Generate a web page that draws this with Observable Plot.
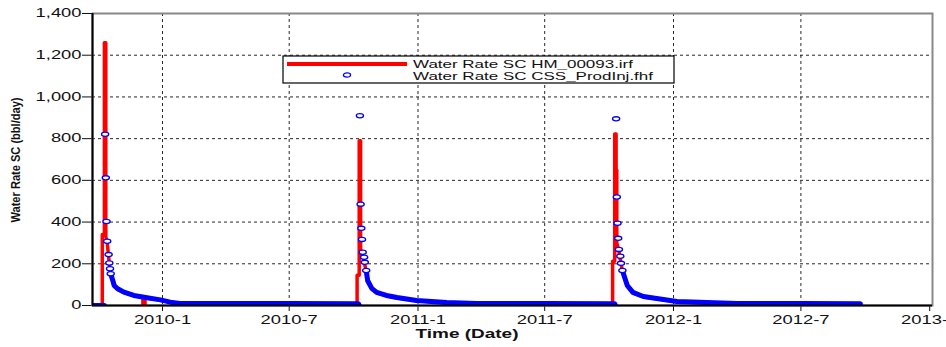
<!DOCTYPE html>
<html><head><meta charset="utf-8">
<script src="https://cdn.jsdelivr.net/npm/d3@7"></script>
<script src="https://cdn.jsdelivr.net/npm/@observablehq/plot@0.6"></script>
<style>
body{margin:0;background:#fff;}
#wrap{position:relative;width:946px;height:347px;overflow:hidden;}
</style></head><body><div id="wrap"></div>
<script>
// ---- data ----
const yTicks = [0, 200, 400, 600, 800, 1000, 1200, 1400];
const xTickDates = ["2010-01-01","2010-07-01","2011-01-01","2011-07-01","2012-01-01","2012-07-01","2013-01-01"];
const xDomain = ["2009-09-23","2013-01-05"];
const seriesNames = ["Water Rate SC HM_00093.irf", "Water Rate SC CSS_ProdInj.fhf"];
const xLabel = "Time (Date)";
const yLabel = "Water Rate SC (bbl/day)";

// simulated rate (piecewise constant over time steps -> repeated dates)
const redDates = ["2009-09-20","2009-10-07","2009-10-07","2009-10-10","2009-10-10","2009-10-12","2009-10-12","2009-10-14","2009-10-18","2009-10-19","2009-10-22","2009-10-24","2009-10-29","2009-11-07","2009-11-21","2009-12-04","2009-12-04","2009-12-07","2009-12-07","2009-12-29","2010-01-12","2010-01-26","2010-04-01","2010-07-01","2010-10-06",
  "2010-10-06","2010-10-09","2010-10-09","2010-10-11","2010-10-11","2010-10-14","2010-10-19","2010-10-21","2010-10-27","2010-11-03","2010-11-17","2010-12-02","2010-12-30","2011-02-11","2011-03-26","2011-07-01","2011-10-06",
  "2011-10-06","2011-10-09","2011-10-09","2011-10-11","2011-10-11","2011-10-12","2011-10-12","2011-10-15","2011-10-20","2011-10-27","2011-11-04","2011-11-19","2011-12-08","2012-01-06","2012-02-18","2012-04-01","2012-07-01","2012-09-24"];
const redValues = [0,0,340,340,1260,1260,330,300,170,148,116,92,77,62,47,39,0,0,37,26,15,9,9,8,7,
  145,145,790,790,255,240,165,116,79,61,46,36,23,13,9,8,7,
  212,212,822,822,650,650,300,260,165,93,61,41,32,18,13,9,8,7];

// measured rate
const blueDates = ["2009-09-20","2009-10-10","2009-10-11","2009-10-12","2009-10-13","2009-10-14","2009-10-16","2009-10-17","2009-10-18","2009-10-19","2009-10-22","2009-10-24","2009-10-29","2009-11-07","2009-11-21","2009-12-10","2009-12-29","2010-01-12","2010-01-26","2010-04-01","2010-07-01","2010-10-08","2010-10-09",
  "2010-10-10","2010-10-11","2010-10-12","2010-10-13","2010-10-14","2010-10-16","2010-10-17","2010-10-19","2010-10-21","2010-10-27","2010-11-03","2010-11-17","2010-12-02","2010-12-30","2011-02-11","2011-03-26","2011-07-01","2011-10-09","2011-10-10",
  "2011-10-11","2011-10-12","2011-10-13","2011-10-14","2011-10-15","2011-10-17","2011-10-18","2011-10-20","2011-10-27","2011-11-04","2011-11-19","2011-12-08","2012-01-06","2012-02-18","2012-04-01","2012-07-01","2012-09-24"];
const blueValues = [0,0,821,612,403,308,244,204,176,152,120,96,80,64,48,37,27,16,10,10,9,8,0,
  910,486,370,317,255,231,207,168,120,82,63,48,38,24,14,10,9,8,0,
  895,520,394,322,269,236,202,168,96,63,43,34,19,14,10,9,8];

// ---- build ----
const red = redDates.map((d, i) => ({date: new Date(d), v: redValues[i]}));
const blue = blueDates.map((d, i) => ({date: new Date(d), v: blueValues[i]}));
const xTicks = xTickDates.map(d => new Date(d));

const ellipse = {
  draw(ctx) {
    const rx = 3.6, ry = 2.1, k = 0.5523;
    ctx.moveTo(rx, 0);
    ctx.bezierCurveTo(rx, ry * k, rx * k, ry, 0, ry);
    ctx.bezierCurveTo(-rx * k, ry, -rx, ry * k, -rx, 0);
    ctx.bezierCurveTo(-rx, -ry * k, -rx * k, -ry, 0, -ry);
    ctx.bezierCurveTo(rx * k, -ry, rx, -ry * k, rx, 0);
    ctx.closePath();
  }
};

const grid = {stroke: "#000", strokeOpacity: 0.85, strokeWidth: 1, strokeDasharray: "3,3"};

const chart = Plot.plot({
  width: 946, height: 347,
  marginLeft: 92, marginRight: 14, marginTop: 13, marginBottom: 42,
  style: {fontFamily: "'Liberation Sans', Arial, sans-serif", fontSize: "12px", color: "#111", background: "#fff"},
  x: {type: "utc", domain: xDomain.map(d => new Date(d)), ticks: xTicks,
      tickFormat: d => `${d.getUTCFullYear()}-${d.getUTCMonth() + 1}`, tickSize: 6, tickPadding: 4, label: null},
  y: {domain: [0, 1400], ticks: yTicks, tickFormat: d3.format(","), tickSize: 10, tickPadding: 1, label: null},
  marks: [
    Plot.ruleX(xTicks.slice(0, -1), grid),
    Plot.ruleY(yTicks.filter(v => v > 0 && v < 1400), grid),
    Plot.frame({stroke: "#888", strokeWidth: 2}),
    Plot.line(red, {x: "date", y: "v", stroke: "#ff0000", strokeWidth: 3.5, clip: true}),
    Plot.line(blue, {x: "date", y: d => d.v >= 170 ? NaN : d.v, stroke: "#0000ff", strokeWidth: 5, clip: true}),
    Plot.dot(blue.filter(d => d.v >= 150), {x: "date", y: "v", symbol: ellipse, stroke: "#0000ff", fill: "#fff", strokeWidth: 1.3}),
    Plot.ruleX([new Date(xDomain[0])], {stroke: "#000", strokeWidth: 2}),
    Plot.ruleY([0], {stroke: "#000", strokeWidth: 2})
  ]
});
document.getElementById("wrap").appendChild(chart);

const svg = d3.select(chart);
// stretch tick labels horizontally like the reference
svg.selectAll('g[aria-label="x-axis tick label"] text, g[aria-label="y-axis tick label"] text').each(function() {
  const w = this.getComputedTextLength();
  this.setAttribute("textLength", (w * 1.53).toFixed(1));
  this.setAttribute("lengthAdjust", "spacingAndGlyphs");
});

// axis titles
svg.append("text").attr("x", 467).attr("y", 338).attr("text-anchor", "middle")
  .attr("font-weight", "bold").attr("font-size", 12).attr("fill", "#111")
  .attr("textLength", 103).attr("lengthAdjust", "spacingAndGlyphs").text(xLabel);
svg.append("text").attr("transform", "translate(20,160) rotate(-90)").attr("text-anchor", "middle")
  .attr("font-weight", "bold").attr("font-size", 12.5).attr("fill", "#111")
  .attr("textLength", 125).attr("lengthAdjust", "spacingAndGlyphs").text(yLabel);

// legend
const lg = svg.append("g").attr("text-anchor", "start");
lg.append("rect").attr("x", 283).attr("y", 56).attr("width", 391).attr("height", 27)
  .attr("fill", "#fff").attr("stroke", "#000").attr("stroke-width", 1.2);
lg.append("line").attr("x1", 287).attr("x2", 407).attr("y1", 64).attr("y2", 64)
  .attr("stroke", "#ff0000").attr("stroke-width", 4);
const p = d3.path(); ellipse.draw(p);
lg.append("path").attr("d", p.toString()).attr("transform", "translate(347,75)")
  .attr("fill", "#fff").attr("stroke", "#0000ff").attr("stroke-width", 1.3);
[[68, 220], [79.5, 240]].forEach(([y, len], i) => {
  lg.append("text").attr("x", 413).attr("y", y).attr("text-anchor", "start")
    .attr("font-size", 11).attr("fill", "#111")
    .attr("textLength", len).attr("lengthAdjust", "spacingAndGlyphs").text(seriesNames[i]);
});
</script>
</body></html>
